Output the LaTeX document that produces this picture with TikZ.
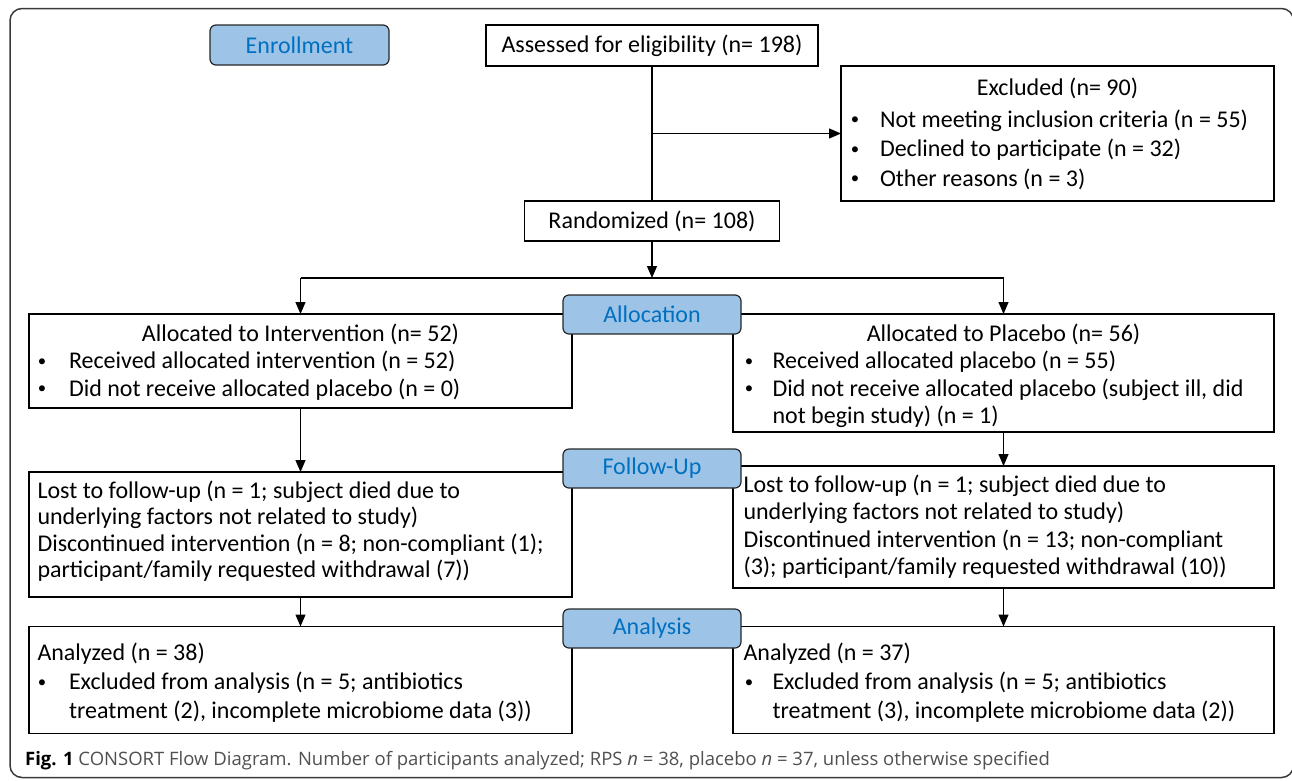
\documentclass[tikz,border=0pt]{standalone}
\usepackage{fontspec}
\setmainfont{Carlito}
\newfontfamily\capfont{Open Sans}
\usetikzlibrary{arrows.meta}
\definecolor{lblfill}{HTML}{9DC3E6}
\definecolor{lbltext}{HTML}{0070C0}
\definecolor{framecol}{HTML}{3A3A3A}
\definecolor{capgray}{HTML}{505050}
% bullet item: #1 bullet centre offset, #2 text indent, #3 text
\newcommand\bitem[3]{\par\hangindent=#2\hangafter=1\noindent\makebox[#2][l]{\hspace*{#1}\makebox[0pt]{\raisebox{2.5pt}{\scalebox{0.7}{\textbullet}}}}#3}
% box content: #1 height, #2 width, #3 left pad, #4 first baseline, #5 text
\newcommand\boxtxt[5]{\parbox[t][#1][t]{#2}{\raggedright\leftskip=#3\relax\rule{0pt}{#4}#5}}
\tikzset{
  box/.style={draw=black, line width=1.2pt, inner sep=0pt, outer sep=0pt, anchor=north west,
    font=\fontsize{24}{27.5}\selectfont},
  sbox/.style={draw=black, line width=1.2pt, inner sep=0pt, outer sep=0pt,
    font=\fontsize{24}{27.5}\selectfont},
  lbl/.style={draw=black!85, fill=lblfill, text=lbltext, rounded corners=6pt, line width=1.2pt,
    minimum width=178pt, minimum height=39pt, inner sep=0pt, outer sep=0pt,
    font=\fontsize{24}{28}\selectfont},
  conn/.style={line width=1.2pt, draw=black},
  arr/.style={conn, -{Triangle[length=12pt,width=10pt]}},
}
\begin{document}
\begin{tikzpicture}[x=1pt,y=-1pt]
\useasboundingbox (0,0) rectangle (1292,780);
\draw[framecol, line width=1.5pt, rounded corners=12pt] (10,8.5) rectangle (1293.5,777.5);

% enrollment
\node[sbox, minimum width=332pt, minimum height=41pt] (assess) at (652,45.5) {Assessed for eligibility (n= 198)};
\node[sbox, minimum width=255pt, minimum height=40pt] (rand) at (652,221) {Randomized (n= 108)};
\node[box, font=\fontsize{24}{29.5}\selectfont] (excl) at (841,66) {\boxtxt{135pt}{433pt}{10pt}{29pt}{%
  {\centering Excluded (n= 90)\par}\vspace{2.5pt}%
  \bitem{4pt}{29pt}{Not meeting inclusion criteria (n = 55)}%
  \bitem{4pt}{29pt}{Declined to participate (n = 32)}%
  \bitem{4pt}{29pt}{Other reasons (n = 3)}}};

% allocation
\node[box] (lalloc) at (29,314) {\boxtxt{94pt}{543pt}{8.5pt}{27pt}{%
  {\centering Allocated to Intervention (n= 52)\par}%
  \bitem{4.5pt}{31.5pt}{Received allocated intervention (n = 52)}%
  \bitem{4.5pt}{31.5pt}{Did not receive allocated placebo (n = 0)}}};
\node[box] (ralloc) at (733,314) {\boxtxt{118pt}{541pt}{10.5pt}{27pt}{%
  {\centering Allocated to Placebo (n= 56)\par}%
  \bitem{5.5pt}{29pt}{Received allocated placebo (n = 55)}%
  \bitem{5.5pt}{29pt}{Did not receive allocated placebo (subject ill, did\newline not begin study) (n = 1)}}};

% follow-up
\node[box, font=\fontsize{24}{26.5}\selectfont] (lfu) at (29,472) {\boxtxt{125pt}{543pt}{8.5pt}{26pt}{%
  Lost to follow-up (n = 1; subject died due to\\
  underlying factors not related to study)\\
  Discontinued intervention (n = 8; non-compliant (1);\\
  participant/family requested withdrawal (7))}};
\node[box] (rfu) at (733,466) {\boxtxt{122pt}{541pt}{10.5pt}{26pt}{%
  Lost to follow-up (n = 1; subject died due to\\
  underlying factors not related to study)\\
  Discontinued intervention (n = 13; non-compliant\\
  (3); participant/family requested withdrawal (10))}};

% analysis
\node[box, font=\fontsize{24}{29}\selectfont] (lana) at (29,626.5) {\boxtxt{107pt}{543pt}{8.5pt}{34pt}{%
  Analyzed (n = 38)%
  \bitem{4.5pt}{31.5pt}{Excluded from analysis (n = 5; antibiotics\newline treatment (2), incomplete microbiome data (3))}}};
\node[box, font=\fontsize{24}{29}\selectfont] (rana) at (733,626.5) {\boxtxt{107pt}{541pt}{10.5pt}{34pt}{%
  Analyzed (n = 37)%
  \bitem{5.5pt}{29pt}{Excluded from analysis (n = 5; antibiotics\newline treatment (3), incomplete microbiome data (2))}}};

% connectors
\coordinate (split) at (652,278);
\draw[conn] (assess.south) -- (rand.north);
\draw[arr] (assess.south |- excl.west) -- (excl.west);
\draw[arr] (rand.south) -- (split);
\draw[conn] (lalloc.north |- split) -- (ralloc.north |- split);
\draw[arr] (lalloc.north |- split) -- (lalloc.north);
\draw[arr] (ralloc.north |- split) -- (ralloc.north);
\draw[arr] (lalloc.south) -- (lfu.north);
\draw[arr] (ralloc.south) -- (rfu.north);
\draw[arr] (lfu.south) -- (lana.north);
\draw[arr] (rfu.south) -- (rana.north);

% phase labels
\node[lbl, minimum width=179pt, minimum height=40pt] (enrol) at (299.5,45) {Enrollment};
\node[lbl] (alloc) at (652,314.5) {Allocation};
\node[lbl] (follow) at (652,468.5) {Follow-Up};
\node[lbl] (anal) at (652,628.5) {Analysis};

% caption
\node[anchor=base west, inner sep=0pt] (cap) at (25,765) {\capfont\fontsize{18.5}{21}\selectfont\textbf{Fig. 1} {\color{capgray}CONSORT Flow Diagram. Number of participants analyzed; RPS \textit{n} = 38, placebo \textit{n} = 37, unless otherwise specified}};
\end{tikzpicture}
\end{document}
